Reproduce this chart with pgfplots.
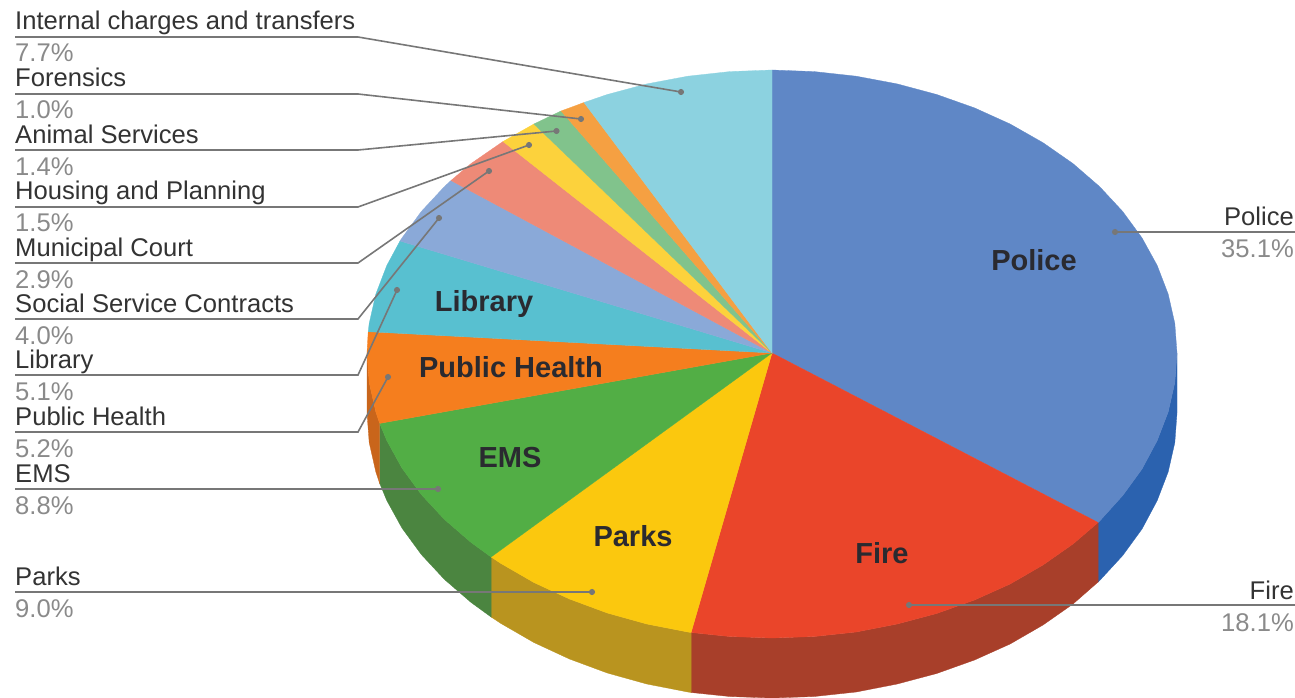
\documentclass[border=0pt]{standalone}
\usepackage{fontspec}
\setmainfont{Liberation Sans}
\usepackage{pgfplots}
\pgfplotsset{compat=1.18}
\definecolor{police}{HTML}{5F87C6}
\definecolor{policeside}{HTML}{2B62AF}
\definecolor{fire}{HTML}{EA452A}
\definecolor{fireside}{HTML}{A83F2A}
\definecolor{parks}{HTML}{FBC80E}
\definecolor{parksside}{HTML}{B9941F}
\definecolor{ems}{HTML}{52AE45}
\definecolor{emsside}{HTML}{4B8540}
\definecolor{health}{HTML}{F57E1E}
\definecolor{healthside}{HTML}{C9651B}
\definecolor{library}{HTML}{58C0D0}
\definecolor{social}{HTML}{8AA9D8}
\definecolor{court}{HTML}{EE8A77}
\definecolor{housing}{HTML}{FCD23C}
\definecolor{animal}{HTML}{81C38C}
\definecolor{forensics}{HTML}{F5A042}
\definecolor{internal}{HTML}{8CD2E0}
\definecolor{labeltext}{HTML}{333333}
\definecolor{pcttext}{HTML}{8A8A8A}
\definecolor{leader}{HTML}{777777}
\definecolor{inner}{HTML}{2A2A30}
\newcommand{\lab}[3]{%
  \node[anchor=base west,inner sep=0pt,text=labeltext] at (axis cs:15,#1+1) {\fontsize{25.6}{26}\selectfont #2};
  \node[anchor=base west,inner sep=0pt,text=pcttext] at (axis cs:15,#1+33) {\fontsize{25.6}{26}\selectfont #3};
}
\newcommand{\rlab}[3]{%
  \node[anchor=base east,inner sep=0pt,text=labeltext] at (axis cs:1294,#1+1) {\fontsize{25.6}{26}\selectfont #2};
  \node[anchor=base east,inner sep=0pt,text=pcttext] at (axis cs:1294,#1+33) {\fontsize{25.6}{26}\selectfont #3};
}
\newcommand{\inlab}[3]{%
  \node[inner sep=0pt,text=inner] at (axis cs:#1,#2) {\fontsize{29}{29}\selectfont\bfseries #3};
}
\begin{document}
\begin{tikzpicture}
\path[use as bounding box] (0,0) rectangle (1295pt,698pt);
\begin{axis}[
  at={(0,0)},anchor=south west,
  scale only axis,width=1295pt,height=698pt,
  xmin=0,xmax=1295,ymin=0,ymax=698,y dir=reverse,
  hide axis,clip=false,
  every axis plot/.append style={forget plot},
  slice/.style={fill=#1,draw=#1,line width=0.3pt},
]
% side walls
\addplot[slice=policeside] coordinates {(1177,353)(1174.8,382.6)(1168.2,411.8)(1157.2,440.5)(1142,469)(1122.7,495.5)(1099.7,521)(1098.1,522.5)(1098.1,582)(1099.7,580.5)(1122.7,555.5)(1142,529)(1157.2,500.5)(1168.2,471.8)(1174.8,442.6)(1177,413)} --cycle;
\addplot[slice=fireside] coordinates {(1098.1,522.5)(1073,544)(1043,565)(1010.1,584)(974.5,600)(936.7,613.5)(897.2,624)(856.2,632)(814.3,636.5)(772,638)(729.7,636.5)(691.1,632.5)(691.1,692.5)(729.7,696.5)(772,698)(814.3,696.5)(856.2,692)(897.2,684)(936.7,673.5)(974.5,660)(1010.1,644)(1043,625)(1073,604)(1098.1,582)} --cycle;
\addplot[slice=parksside] coordinates {(691.1,632.5)(687.8,632)(646.8,624)(607.3,613)(569.5,599)(533.9,582.5)(501,563.5)(491.1,557)(491.1,617)(501,623.5)(533.9,642.5)(569.5,659)(607.3,673)(646.8,684)(687.8,692)(691.1,692.5)} --cycle;
\addplot[slice=emsside] coordinates {(491.1,557)(471,542.4)(444.3,519.3)(421.3,494.5)(402,468.1)(386.8,440.5)(379.7,423.4)(379.7,483.4)(386.8,500.5)(402,528.1)(421.3,554.5)(444.3,579.3)(471,602.4)(491.1,617)} --cycle;
\addplot[slice=healthside] coordinates {(379.7,423.4)(375.8,411.8)(369.2,382.6)(367,353)(367,413)(369.2,442.6)(375.8,471.8)(379.7,483.4)} --cycle;
% top faces
\addplot[slice=police] coordinates {(772,353)(772,70)(814.3,71.6)(856.2,76.2)(897.2,83.9)(936.7,94.5)(974.5,107.9)(1010.1,124)(1043,142.7)(1073,163.6)(1099.7,186.7)(1122.7,211.5)(1142,237.9)(1157.2,265.5)(1168.2,294.2)(1174.8,323.4)(1177,353)(1174.8,382.6)(1168.2,411.8)(1157.2,440.5)(1142,469)(1122.7,495.5)(1099.7,521)(1098.1,522.5)} --cycle;
\addplot[slice=fire] coordinates {(772,353)(1098.1,522.5)(1073,544)(1043,565)(1010.1,584)(974.5,600)(936.7,613.5)(897.2,624)(856.2,632)(814.3,636.5)(772,638)(729.7,636.5)(691.1,632.5)} --cycle;
\addplot[slice=parks] coordinates {(772,353)(691.1,632.5)(687.8,632)(646.8,624)(607.3,613)(569.5,599)(533.9,582.5)(501,563.5)(491.1,557)} --cycle;
\addplot[slice=ems] coordinates {(772,353)(491.1,557)(471,542.4)(444.3,519.3)(421.3,494.5)(402,468.1)(386.8,440.5)(379.7,423.4)} --cycle;
\addplot[slice=health] coordinates {(772,353)(379.7,423.4)(375.8,411.8)(369.2,382.6)(367,353)(368.2,331.7)} --cycle;
\addplot[slice=library] coordinates {(772,353)(368.2,331.7)(369.2,323.4)(375.8,294.2)(386.8,265.5)(400,241)} --cycle;
\addplot[slice=social] coordinates {(772,353)(400,241)(402,237.9)(421.3,211.5)(444.3,186.7)(451,180.5)} --cycle;
\addplot[slice=court] coordinates {(772,353)(451,180.5)(471,163.6)(503,141.5)} --cycle;
\addplot[slice=housing] coordinates {(772,353)(503,141.5)(533.9,124)} --cycle;
\addplot[slice=animal] coordinates {(772,353)(533.9,124)(561,111)} --cycle;
\addplot[slice=forensics] coordinates {(772,353)(561,111)(569.5,107.9)(584,102.5)} --cycle;
\addplot[slice=internal] coordinates {(772,353)(584,102.5)(607.3,94.5)(646.8,83.9)(687.8,76.2)(729.7,71.6)(772,70)} --cycle;
% leader lines
\pgfplotsset{every axis plot/.append style={draw=leader,line width=1.6pt,no markers}}
\addplot[leader] coordinates {(15,37)(358,37)(681,92)};
\addplot[leader] coordinates {(15,94)(358,94)(581,119)};
\addplot[leader] coordinates {(15,150)(358,150)(556.5,131)};
\addplot[leader] coordinates {(15,207)(358,207)(529,145)};
\addplot[leader] coordinates {(15,263)(358,263)(489,171)};
\addplot[leader] coordinates {(15,319)(358,319)(439,218)};
\addplot[leader] coordinates {(15,375)(358,375)(397,290)};
\addplot[leader] coordinates {(15,432)(358,432)(388,377)};
\addplot[leader] coordinates {(15,489)(438,489)};
\addplot[leader] coordinates {(15,592)(592,592)};
\addplot[leader] coordinates {(1295,232)(1115,232)};
\addplot[leader] coordinates {(1295,605)(909,605)};
\addplot[only marks,mark=*,mark size=2.2pt,mark options={fill=leader,draw=leader}] coordinates {(681,92)(581,119)(556.5,131)(529,145)(489,171)(439,218)(397,290)(388,377)(438,489)(592,592)(1115,232)(909,605)};
% labels
\lab{29}{Internal charges and transfers}{7.7\%}
\lab{86}{Forensics}{1.0\%}
\lab{142}{Animal Services}{1.4\%}
\lab{198}{Housing and Planning}{1.5\%}
\lab{255}{Municipal Court}{2.9\%}
\lab{311}{Social Service Contracts}{4.0\%}
\lab{367}{Library}{5.1\%}
\lab{424}{Public Health}{5.2\%}
\lab{481}{EMS}{8.8\%}
\lab{584}{Parks}{9.0\%}
\rlab{224}{Police}{35.1\%}
\rlab{598}{Fire}{18.1\%}
\inlab{1034}{260}{Police}
\inlab{882}{553}{Fire}
\inlab{633}{536}{Parks}
\inlab{510}{458}{EMS}
\inlab{511}{367}{Public Health}
\inlab{484}{304}{Library}
\end{axis}
\end{tikzpicture}
\end{document}
